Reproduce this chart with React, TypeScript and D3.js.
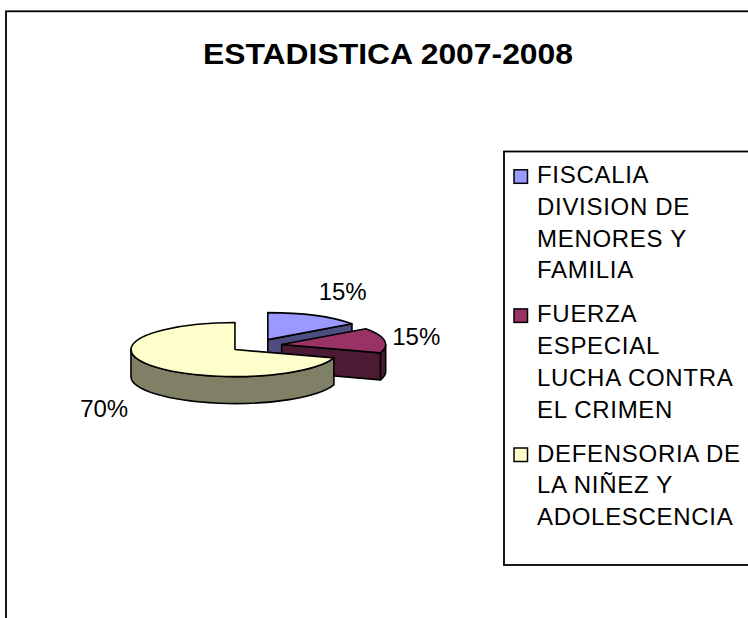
import React from "react";
import * as d3 from "d3";

const title = "ESTADISTICA 2007-2008";
const categories = [
  "FISCALIA DIVISION DE MENORES Y FAMILIA",
  "FUERZA ESPECIAL LUCHA CONTRA EL CRIMEN",
  "DEFENSORIA DE LA NIÑEZ Y ADOLESCENCIA",
];
const legendLines = [
  ["FISCALIA", "DIVISION DE", "MENORES Y", "FAMILIA"],
  ["FUERZA", "ESPECIAL", "LUCHA CONTRA", "EL CRIMEN"],
  ["DEFENSORIA DE", "LA NIÑEZ Y", "ADOLESCENCIA"],
];
const values = [15, 15, 70];
const pctLabels = ["15%", "15%", "70%"];
const colors = ["#9999FF", "#993366", "#FFFFCC"];

const W = 748;
const H = 618;
const FONT = "'Liberation Sans', Arial, Helvetica, sans-serif";

const CX = 256;
const CY = 345.6;
const RX = 104;
const RY = 27;
const DEPTH = 27;
const EXPLODE = 0.25;

function darker(c: string) {
  const r = d3.rgb(c);
  return d3.rgb(r.r * 0.5, r.g * 0.5, r.b * 0.5).formatHex();
}

export default function App() {
  const pie = d3.pie<number>().sort(null).value((d) => d).startAngle(0).endAngle(2 * Math.PI);
  const arcs = pie(values);

  const slices = arcs.map((a, i) => {
    const a0 = a.startAngle;
    const a1 = a.endAngle;
    const mid = (a0 + a1) / 2;
    const ax = CX + EXPLODE * RX * Math.sin(mid);
    const ay = CY - EXPLODE * RY * Math.cos(mid);
    const pt = (t: number, z = 0): [number, number] => [ax + RX * Math.sin(t), ay - RY * Math.cos(t) + z];
    const f = (p: [number, number]) => `${p[0].toFixed(2)},${p[1].toFixed(2)}`;
    const side = darker(colors[i]);
    const faces: string[] = [];
    if (Math.sin(a1) > 1e-6) {
      faces.push(`M${f([ax, ay])} L${f(pt(a1))} L${f(pt(a1, DEPTH))} L${f([ax, ay + DEPTH])} Z`);
    }
    if (Math.sin(a0) < -1e-6) {
      faces.push(`M${f([ax, ay])} L${f(pt(a0))} L${f(pt(a0, DEPTH))} L${f([ax, ay + DEPTH])} Z`);
    }
    const s = Math.max(a0, Math.PI / 2);
    const e = Math.min(a1, (3 * Math.PI) / 2);
    if (e > s) {
      const lg = e - s > Math.PI ? 1 : 0;
      faces.push(
        `M${f(pt(s))} A${RX},${RY} 0 ${lg} 1 ${f(pt(e))} L${f(pt(e, DEPTH))} A${RX},${RY} 0 ${lg} 0 ${f(pt(s, DEPTH))} Z`
      );
    }
    const lgTop = a1 - a0 > Math.PI ? 1 : 0;
    const top = `M${f([ax, ay])} L${f(pt(a0))} A${RX},${RY} 0 ${lgTop} 1 ${f(pt(a1))} Z`;

    const sn = Math.sin(mid);
    const cs = Math.cos(mid);
    const sg = Math.sign(sn);
    const lx = ax + (RX + 8) * sn + 24 * sg + (cs < 0 ? 0.6 * DEPTH * sg : 0);
    const ly = ay - (1.1 * RY + 24) * cs + (cs < 0 ? DEPTH : 0);
    return { faces, top, side, fill: colors[i], lx, ly, label: pctLabels[i] };
  });

  const legX = 504;
  const legTop = 151.5;
  const legBottom = 565;
  const lineH = 31.7;
  const itemGap = 44;
  let base = 183.3;
  const legendItems = legendLines.map((lines, i) => {
    const first = base;
    base = first + (lines.length - 1) * lineH + itemGap;
    return { lines, first, color: colors[i], name: categories[i] };
  });

  return (
    <svg
      width={W}
      height={H}
      viewBox={`0 0 ${W} ${H}`}
      style={{ position: "absolute", left: 0, top: 0, background: "#fff" }}
    >
      <rect x={0} y={0} width={W} height={H} fill="#fff" />
      <rect x={6} y={11.3} width={W + 20} height={H + 20} fill="#fff" stroke="#000" strokeWidth={1.8} />
      <text
        x={388}
        y={64}
        textAnchor="middle"
        fontFamily={FONT}
        fontWeight="bold"
        fontSize={29}
        textLength={370}
        lengthAdjust="spacingAndGlyphs"
        fill="#000"
      >
        {title}
      </text>

      <g stroke="#000" strokeWidth={1.6} strokeLinejoin="round">
        {slices.map((s, i) => (
          <g key={i}>
            {s.faces.map((p, j) => (
              <path key={j} d={p} fill={s.side} />
            ))}
            <path d={s.top} fill={s.fill} />
          </g>
        ))}
      </g>
      {slices.map((s, i) => (
        <text
          key={i}
          x={s.lx}
          y={s.ly}
          dy="0.35em"
          textAnchor="middle"
          fontFamily={FONT}
          fontSize={24}
          fill="#000"
        >
          {s.label}
        </text>
      ))}

      <rect x={legX} y={legTop} width={W} height={legBottom - legTop} fill="#fff" stroke="#000" strokeWidth={1.8} />
      {legendItems.map((it, i) => (
        <g key={i}>
          <rect x={514} y={it.first - 13.5} width={13.5} height={13.5} fill={it.color} stroke="#000" strokeWidth={1.5} />
          {it.lines.map((ln, j) => (
            <text
              key={j}
              x={537}
              y={it.first + j * lineH}
              fontFamily={FONT}
              fontSize={24}
              letterSpacing={0.7}
              fill="#000"
            >
              {ln}
            </text>
          ))}
        </g>
      ))}
    </svg>
  );
}
